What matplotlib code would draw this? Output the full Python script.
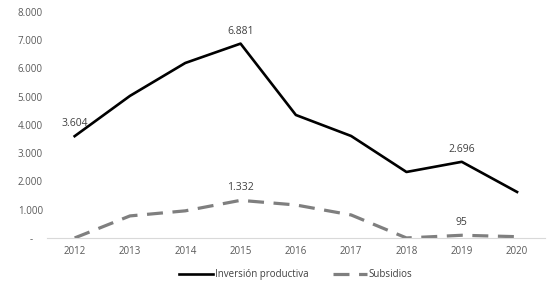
import numpy as np
import matplotlib.pyplot as plt
from matplotlib.ticker import FuncFormatter

plt.rcParams['font.family'] = ['Open Sans', 'DejaVu Sans']

years = [2012, 2013, 2014, 2015, 2016, 2017, 2018, 2019, 2020]
inversion = [3604, 5030, 6195, 6881, 4354, 3610, 2336, 2696, 1628]
subsidios = [0, 780, 960, 1332, 1168, 814, 0, 95, 45]

# which points carry a label
lab_inv = [0, 3, 7]
lab_sub = [3, 7]

fig = plt.figure(figsize=(5.53, 2.86), dpi=100)
ax = fig.add_axes([0.085, 0.168, 0.9, 0.79])

x = np.arange(len(years))
ax.plot(x, inversion, color='black', lw=1.9, label='Inversión productiva')
ax.plot(x, subsidios, color='#7f7f7f', lw=2.3, dashes=(5, 3), label='Subsidios')

def fmt(v):
    return '{:,.0f}'.format(v).replace(',', '.')

for i in lab_inv:
    ax.annotate(fmt(inversion[i]), (x[i], inversion[i]), xytext=(0, 5),
                textcoords='offset points', ha='center', va='bottom',
                fontsize=7.5, color='#404040')
for i in lab_sub:
    ax.annotate(fmt(subsidios[i]), (x[i], subsidios[i]), xytext=(0, 5),
                textcoords='offset points', ha='center', va='bottom',
                fontsize=7.5, color='#404040')

ax.set_xlim(-0.5, len(years) - 0.5)
ax.set_ylim(0, 8000)
ax.set_yticks(range(0, 8001, 1000))
ax.yaxis.set_major_formatter(FuncFormatter(lambda v, p: '-    ' if v == 0 else fmt(v)))
ax.set_xticks(x)
ax.set_xticklabels([str(y) for y in years])

for s in ['top', 'right', 'left']:
    ax.spines[s].set_visible(False)
ax.spines['bottom'].set_color('#d9d9d9')
ax.tick_params(length=0, labelsize=7, colors='#595959', pad=6)
ax.tick_params(axis='y', pad=3)

ax.legend(loc='upper center', bbox_to_anchor=(0.5, -0.1), ncol=2, frameon=False,
          fontsize=7, handlelength=3.5, columnspacing=2.5, handletextpad=0.2)
for t in ax.get_legend().get_texts():
    t.set_color('#404040')

fig.savefig('out.png', dpi=100)
